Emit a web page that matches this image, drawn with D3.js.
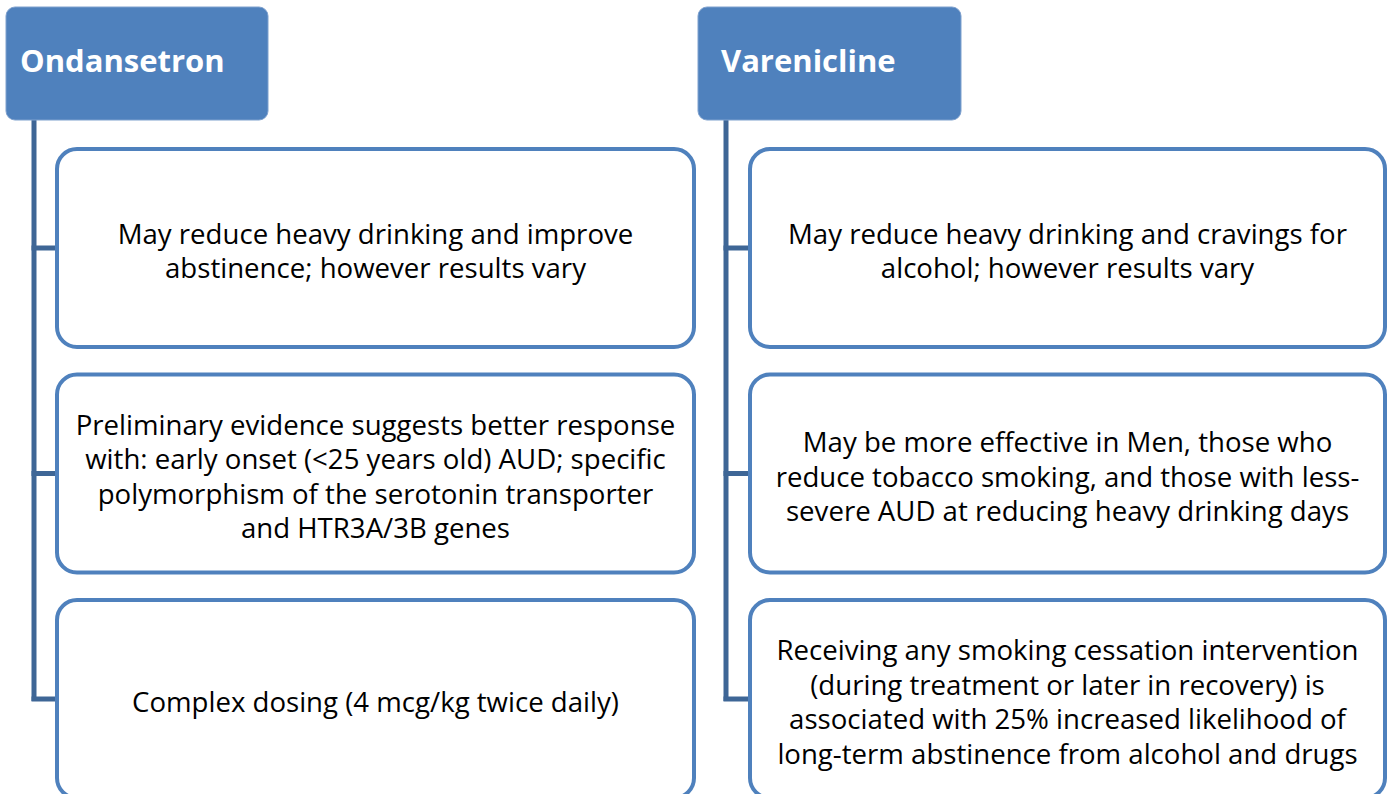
<!DOCTYPE html>
<html><head><meta charset="utf-8">
<script src="https://cdn.jsdelivr.net/npm/d3@7"></script>
<style>body{margin:0;background:#fff;overflow:hidden}svg{display:block}</style>
</head><body><svg id="c" width="1388" height="794"></svg>
<script>
const headers = ["Ondansetron", "Varenicline"];
const ondansetronItems = [
  ["May reduce heavy drinking and improve", "abstinence; however results vary"],
  ["Preliminary evidence suggests better response", "with: early onset (<25 years old) AUD; specific", "polymorphism of the serotonin transporter", "and HTR3A/3B genes"],
  ["Complex dosing (4 mcg/kg twice daily)"]
];
const vareniclineItems = [
  ["May reduce heavy drinking and cravings for", "alcohol; however results vary"],
  ["May be more effective in Men, those who", "reduce tobacco smoking, and those with less-", "severe AUD at reducing heavy drinking days"],
  ["Receiving any smoking cessation intervention", "(during treatment or later in recovery) is", "associated with 25% increased likelihood of", "long-term abstinence from alcohol and drugs"]
];
const columns = [
  {header: headers[0], items: ondansetronItems, hx: 6, hw: 262, lineX: 34, bx: 57, bw: 637, tx: 20},
  {header: headers[1], items: vareniclineItems, hx: 698, hw: 263, lineX: 726, bx: 750, bw: 635, tx: 721}
];
const svg = d3.select("#c");
const fill = "#4F81BD", conn = "#3E6696";
const rowY = d3.scaleBand().domain([0,1,2]).range([149, 798]).paddingInner(0.122).paddingOuter(0);
const font = "'Open Sans', sans-serif";
columns.forEach(col => {
  const g = svg.append("g");
  const lastMid = rowY(2) + rowY.bandwidth()/2;
  g.append("line").attr("x1", col.lineX).attr("x2", col.lineX).attr("y1", 118).attr("y2", lastMid + 2)
    .attr("stroke", conn).attr("stroke-width", 5);
  col.items.forEach((it, i) => {
    const mid = rowY(i) + rowY.bandwidth()/2;
    g.append("line").attr("x1", col.lineX - 2.5).attr("x2", col.bx).attr("y1", mid).attr("y2", mid)
      .attr("stroke", conn).attr("stroke-width", 5);
  });
  g.append("rect").attr("x", col.hx).attr("y", 7).attr("width", col.hw).attr("height", 113)
    .attr("rx", 9).attr("fill", fill).attr("stroke", "#7FA1CE").attr("stroke-width", 1);
  g.append("text").attr("x", col.tx).attr("y", 72).text(col.header)
    .attr("fill", "#fff").attr("font-family", font).attr("font-weight", 700).attr("font-size", 31);
  col.items.forEach((lines, i) => {
    const y = rowY(i), h = rowY.bandwidth();
    g.append("rect").attr("x", col.bx).attr("y", y).attr("width", col.bw).attr("height", h)
      .attr("rx", 20).attr("fill", "#fff").attr("stroke", fill).attr("stroke-width", 4);
    const cy = y + h/2;
    const lh = 34.5;
    const t = g.append("text").attr("text-anchor", "middle").attr("font-family", font)
      .attr("font-size", 27.6).attr("fill", "#000");
    lines.forEach((ln, k) => {
      t.append("tspan").attr("x", col.bx + col.bw/2)
        .attr("y", cy + (k - (lines.length-1)/2) * lh + 13).text(ln);
    });
  });
});
</script></body></html>
